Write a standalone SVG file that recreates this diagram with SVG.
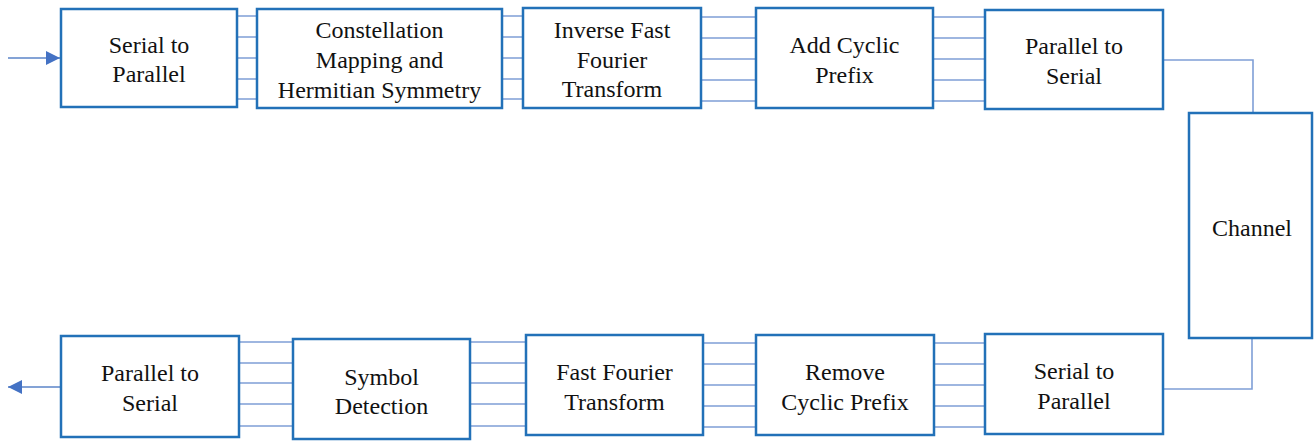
<svg xmlns="http://www.w3.org/2000/svg" width="1314" height="441" viewBox="0 0 1314 441">
  <style>
    .box { fill: #ffffff; stroke: #2271b8; stroke-width: 2.5; }
    .wire { fill: none; stroke: #7f9fd6; stroke-width: 1.6; }
    .io { fill: none; stroke: #5b85c9; stroke-width: 1.6; }
    text { font-family: "Liberation Serif", "Times New Roman", serif; font-size: 24px; fill: #111111; text-anchor: middle; }
  </style>
  <defs>
    <marker id="arrow" viewBox="0 0 14 14" refX="14" refY="7" markerWidth="14" markerHeight="14" markerUnits="userSpaceOnUse" orient="auto">
      <path d="M0,0 L14,7 L0,14 z" fill="#4472c4"/>
    </marker>
  </defs>

  <!-- connectors -->
  <g id="connectors">
    <!-- input / output -->
    <line class="io" x1="8" y1="58" x2="60" y2="58" marker-end="url(#arrow)"/>
    <line class="io" x1="61" y1="387" x2="8" y2="387" marker-end="url(#arrow)"/>
    <!-- parallel buses, top row -->
    <path class="wire" d="M237,16H257M237,37H257M237,58H257M237,79H257M237,99H257"/>
    <path class="wire" d="M502,16H523M502,37H523M502,58H523M502,79H523M502,99H523"/>
    <path class="wire" d="M701,17H756M701,38H756M701,59H756M701,80H756M701,101H756"/>
    <path class="wire" d="M933,17H985M933,38H985M933,59H985M933,80H985M933,101H985"/>
    <!-- to and from the channel -->
    <path class="wire" d="M1163,60H1253V113"/>
    <path class="wire" d="M1252,338V389H1163"/>
    <!-- parallel buses, bottom row -->
    <path class="wire" d="M239,342H293M239,363H293M239,383H293M239,404H293M239,426H293"/>
    <path class="wire" d="M470,342H526M470,363H526M470,383H526M470,404H526M470,426H526"/>
    <path class="wire" d="M703,343H756M703,364H756M703,385H756M703,406H756M703,427H756"/>
    <path class="wire" d="M934,343H985M934,364H985M934,385H985M934,406H985M934,427H985"/>
  </g>

  <!-- transmitter chain -->
  <g id="tx-serial-to-parallel">
    <rect class="box" x="61" y="9" width="176" height="98"/>
    <text x="149" y="53">Serial to</text>
    <text x="149" y="82">Parallel</text>
  </g>
  <g id="tx-mapping">
    <rect class="box" x="257" y="9" width="245" height="99"/>
    <text x="379.5" y="38">Constellation</text>
    <text x="379.5" y="68">Mapping and</text>
    <text x="379.5" y="98">Hermitian Symmetry</text>
  </g>
  <g id="tx-ifft">
    <rect class="box" x="523" y="8" width="178" height="100"/>
    <text x="612" y="38">Inverse Fast</text>
    <text x="612" y="68">Fourier</text>
    <text x="612" y="97">Transform</text>
  </g>
  <g id="tx-add-cp">
    <rect class="box" x="756" y="8" width="177" height="100"/>
    <text x="844.5" y="53">Add Cyclic</text>
    <text x="844.5" y="83">Prefix</text>
  </g>
  <g id="tx-parallel-to-serial">
    <rect class="box" x="985" y="10" width="178" height="99"/>
    <text x="1074" y="54">Parallel to</text>
    <text x="1074" y="84">Serial</text>
  </g>

  <!-- channel -->
  <g id="channel">
    <rect class="box" x="1189" y="113" width="123" height="225"/>
    <text x="1252" y="236">Channel</text>
  </g>

  <!-- receiver chain -->
  <g id="rx-serial-to-parallel">
    <rect class="box" x="985" y="334" width="178" height="100"/>
    <text x="1074" y="379">Serial to</text>
    <text x="1074" y="409">Parallel</text>
  </g>
  <g id="rx-remove-cp">
    <rect class="box" x="756" y="335" width="178" height="100"/>
    <text x="845" y="380">Remove</text>
    <text x="845" y="410">Cyclic Prefix</text>
  </g>
  <g id="rx-fft">
    <rect class="box" x="526" y="335" width="177" height="100"/>
    <text x="614.5" y="380">Fast Fourier</text>
    <text x="614.5" y="410">Transform</text>
  </g>
  <g id="rx-symbol-detection">
    <rect class="box" x="293" y="339" width="177" height="100"/>
    <text x="381.5" y="385">Symbol</text>
    <text x="381.5" y="414">Detection</text>
  </g>
  <g id="rx-parallel-to-serial">
    <rect class="box" x="61" y="336" width="178" height="101"/>
    <text x="150" y="381">Parallel to</text>
    <text x="150" y="411">Serial</text>
  </g>
</svg>
